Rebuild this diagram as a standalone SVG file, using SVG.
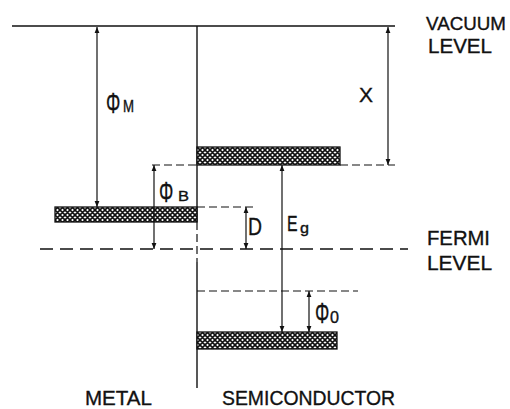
<svg xmlns="http://www.w3.org/2000/svg" width="510" height="409" viewBox="0 0 510 409">
<style>
.ln{stroke:#111;stroke-width:1.4;fill:none}
.ds{stroke:#111;stroke-width:1.2;fill:none;stroke-dasharray:8 4}
.fl{stroke:#111;stroke-width:1.3;fill:none;stroke-dasharray:13 7}
.ar{stroke:#111;stroke-width:1.2;fill:none;marker-start:url(#ah);marker-end:url(#ah)}
.band{fill:url(#hatch);stroke:#111;stroke-width:1.3}
text{font-family:"Liberation Sans",Arial,sans-serif;fill:#111;stroke:#111;stroke-width:0.35}
.lab{font-size:21px}
.phi{font-size:30px}
</style>
<defs>
<marker id="ah" viewBox="0 0 10 10" refX="10" refY="5" markerWidth="6" markerHeight="6" orient="auto-start-reverse" markerUnits="userSpaceOnUse">
<path d="M0,1 L10,5 L0,9 z" fill="#111"/>
</marker>
<pattern id="hatch" width="5" height="5" patternUnits="userSpaceOnUse">
<rect width="5" height="5" fill="#fff"/>
<path d="M0,0 L5,5 M-1,4 L1,6 M4,-1 L6,1 M0,5 L5,0 M-1,1 L1,-1 M4,6 L6,4" stroke="#111" stroke-width="1.6"/>
</pattern>
</defs>

<g id="vacuum-level">
<line class="ln" x1="12" y1="26" x2="395" y2="26"/>
<text x="426" y="30" font-size="19" textLength="80" lengthAdjust="spacingAndGlyphs">VACUUM</text>
<text class="lab" x="428" y="53" textLength="64" lengthAdjust="spacingAndGlyphs">LEVEL</text>
</g>

<g id="interface">
<line class="ln" x1="197" y1="26" x2="197" y2="222"/>
<line class="ds" x1="197" y1="222" x2="197" y2="262"/>
<line class="ln" x1="197" y1="262" x2="197" y2="388"/>
</g>

<g id="fermi-level">
<line class="fl" x1="40" y1="249" x2="408" y2="249"/>
<text class="lab" x="427" y="245" textLength="63" lengthAdjust="spacingAndGlyphs">FERMI</text>
<text class="lab" x="427" y="270" textLength="65" lengthAdjust="spacingAndGlyphs">LEVEL</text>
</g>

<g id="metal-band">
<rect class="band" x="55" y="207" width="142" height="15"/>
</g>

<g id="conduction-band">
<rect class="band" x="197" y="147" width="143" height="18"/>
</g>

<g id="valence-band">
<rect class="band" x="197" y="332" width="140" height="17"/>
</g>

<g id="guides">
<line class="ds" x1="152" y1="165" x2="197" y2="165"/>
<line class="ds" x1="340" y1="165" x2="395" y2="165"/>
<line class="ds" x1="197" y1="207" x2="254" y2="207"/>
<line class="ds" x1="197" y1="291" x2="358" y2="291"/>
</g>

<g id="connectors">
<line class="ar" x1="97" y1="27" x2="97" y2="207"/>
<line class="ar" x1="388" y1="27" x2="388" y2="165"/>
<line class="ar" x1="154" y1="165" x2="154" y2="249"/>
<line class="ar" x1="246" y1="207" x2="246" y2="249"/>
<line class="ar" x1="282" y1="165" x2="282" y2="332"/>
<line class="ar" x1="309" y1="291" x2="309" y2="332"/>
</g>

<g id="labels">
<text class="phi" transform="translate(106,113) scale(0.6,1)">Φ</text>
<text x="123" y="112" font-size="16" textLength="11" lengthAdjust="spacingAndGlyphs">M</text>
<text x="359" y="102" font-size="20" textLength="14" lengthAdjust="spacingAndGlyphs">X</text>
<text class="phi" transform="translate(159,202) scale(0.6,1)">Φ</text>
<text x="178" y="201" font-size="15" textLength="11" lengthAdjust="spacingAndGlyphs">B</text>
<text x="248" y="235" font-size="23" textLength="14" lengthAdjust="spacingAndGlyphs">D</text>
<text transform="translate(287,231) scale(0.72,1)" font-size="22">E</text>
<text x="300" y="233" font-size="15" textLength="9" lengthAdjust="spacingAndGlyphs">g</text>
<text class="phi" transform="translate(315,323) scale(0.6,1)">Φ</text>
<text x="330" y="323" font-size="17" textLength="9" lengthAdjust="spacingAndGlyphs">0</text>
</g>

<g id="region-labels">
<text class="lab" x="85" y="405" textLength="67" lengthAdjust="spacingAndGlyphs">METAL</text>
<text class="lab" x="222" y="405" textLength="173" lengthAdjust="spacingAndGlyphs">SEMICONDUCTOR</text>
</g>
</svg>
